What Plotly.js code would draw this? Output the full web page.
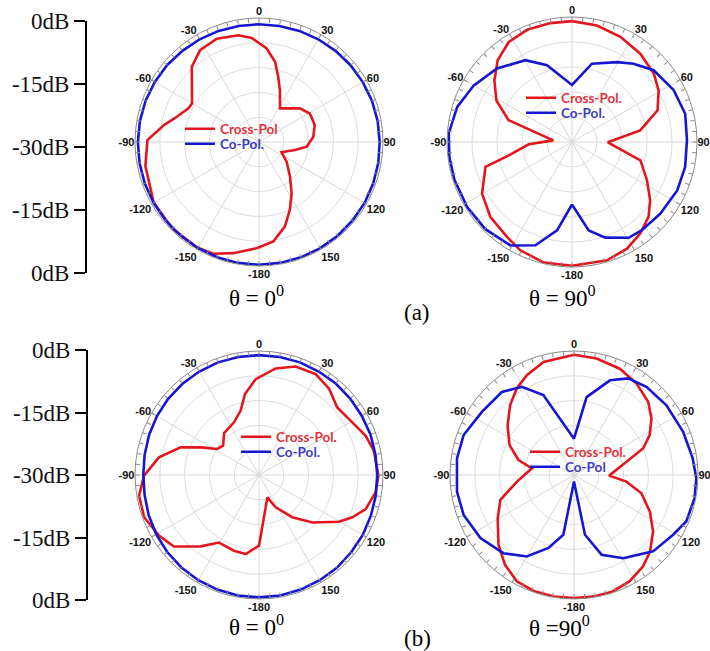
<!DOCTYPE html>
<html>
<head>
<meta charset="utf-8">
<script src="https://cdn.plot.ly/plotly-3.0.1.min.js"></script>
<style>html,body{margin:0;padding:0;background:#fff;}#chart{width:710px;height:651px;}</style>
</head>
<body>
<div id="chart"></div>
<script>
// ---------- DATA (dB, -30 at centre, 0 at outer circle; angle clockwise from top) ----------
const angTickVals = [0, 30, 60, 90, 120, 150, 180, 210, 240, 270, 300, 330];
const angTickText = ['0', '30', '60', '90', '120', '150', '-180', '-150', '-120', '-90', '-60', '-30'];
const bracketPos  = [30, 15, 0, -15, -30];
const bracketText = ['0dB', '-15dB', '-30dB', '-15dB', '0dB'];

// (a) theta = 0 deg
const a0CrossTheta = [-178.7, -167, -157.8, -149.6, -135, -120, -102, -89, -80, -74, -64.5, -60, -41.8, -32.7, -22.2, -10.9, -4, 4.7, 11.3, 16.5, 22, 32, 50.6, 60.7, 73, 84.4, 95.6, 102.5, 114.5, 125.4, 138, 147.5, 155.5, 163, 171.8, -178.7];
const a0CrossR     = [-4.3, -2.4, -0.8, -0.4, -0.4, -0.6, -1.9, -3.0, -6.6, -8.9, -11.1, -11.3, -5.6, -3.6, -3.0, -3.7, -4.75, -7.3, -10.2, -13.6, -16.5, -20.4, -17.2, -15.9, -15.9, -16.8, -18.4, -21.1, -24.0, -21.8, -18.8, -15.3, -12.0, -8.6, -5.7, -4.3];
const a0CoTheta = [-180, -170, -160, -150, -140, -130, -120, -110, -100, -90, -80, -70, -60, -50, -40, -30, -20, -10, 0, 10, 20, 30, 40, 50, 60, 70, 80, 90, 100, 110, 120, 130, 140, 150, 160, 170, 180];
const a0CoR     = [-0.3, -0.3, -0.35, -0.4, -0.45, -0.5, -0.55, -0.6, -0.65, -0.7, -0.75, -0.8, -0.9, -1.0, -1.2, -1.3, -1.4, -1.5, -1.5, -1.5, -1.4, -1.3, -1.2, -1.1, -1.0, -0.9, -0.85, -0.8, -0.7, -0.6, -0.5, -0.45, -0.4, -0.35, -0.3, -0.3, -0.3];

// (a) theta = 90 deg
const a90CrossTheta = [-166.9, -154.5, -145.6, -132.6, -119.9, -106, -101.9, -93, -85, -71, -61.2, -51.5, -42.3, -32.3, -21.8, -10.3, 0, 12.1, 24.7, 37.7, 50.1, 59.2, 69.7, 80.3, 90.5, 105, 117, 126.7, 134.4, 143.3, 152.7, 163.5, 180, -166.9];
const a90CrossR     = [-0.3, -1.2, -2.4, -3.4, -5.1, -8.4, -14.5, -19.6, -25.5, -13.9, -9.3, -6.2, -3.5, -1.6, -1.0, -1.0, -1.0, -1.4, -2.2, -3.2, -4.4, -5.8, -8.1, -13.4, -21.4, -13.0, -9.8, -6.6, -4.3, -2.6, -1.2, -0.4, -0.3, -0.3];
const a90CoTheta = [-180, -170.4, -160.5, -149.2, -135, -121.8, -108, -97, -86, -73, -60, -45.6, -29.7, -18, 0, 14.3, 29.4, 38.2, 48.7, 63, 76, 89, 102.4, 114.7, 129, 141.6, 149.4, 160.8, 169.3, 180];
const a90CoR     = [-15.0, -8.5, -3.7, -1.1, -0.5, -0.4, -0.35, -0.35, -0.35, -1.2, -2.8, -4.8, -7.4, -10.6, -16.3, -10.6, -8.0, -6.1, -3.9, -2.6, -2.0, -2.4, -2.2, -2.2, -2.7, -3.0, -3.3, -5.7, -8.4, -15.0];

// (b) theta = 0 deg
const b0CrossTheta = [-170.4, -161.7, -149.3, -140.7, -130, -121.2, -110.2, -99.8, -90.3, -80, -70.5, -64.6, -58, -50.8, -39.8, -25.4, -15.9, -9.8, -2, 8.9, 18.6, 29.3, 39.1, 49.2, 60.6, 69.8, 78, 90.3, 98.5, 107.7, 114.4, 120.3, 131.6, 141.8, 152.7, 159.5, 180, -170.4];
const b0CrossR     = [-10.6, -10.7, -11.0, -7.7, -3.1, -1.7, -0.4, -0.55, -2.2, -5.4, -9.9, -14.4, -18.1, -18.8, -16.8, -15.9, -13.8, -10.1, -6.8, -3.9, -2.3, -2.0, -3.1, -5.0, -4.1, -2.5, -1.6, -1.1, -1.5, -2.9, -5.2, -7.6, -12.7, -17.0, -21.2, -24.2, -12.9, -10.6];
const b0CoTheta = [-180, -170, -160, -150, -140, -130, -120, -110, -100, -90, -80, -70, -60, -50, -40, -30, -20, -10, 0, 10, 20, 30, 40, 50, 60, 70, 80, 90, 100, 110, 120, 130, 140, 150, 160, 170, 180];
const b0CoR     = [-0.4, -0.4, -0.5, -0.6, -0.8, -1.0, -1.3, -1.6, -1.9, -2.0, -1.9, -1.7, -1.5, -1.3, -1.2, -1.1, -1.0, -1.0, -1.0, -1.0, -1.0, -1.1, -1.1, -1.2, -1.3, -1.3, -1.4, -1.4, -1.3, -1.2, -1.0, -0.9, -0.7, -0.6, -0.5, -0.4, -0.4];

// (b) theta = 90 deg
const b90CrossTheta = [-170.5, -160.8, -151.7, -142.5, -132.8, -119.5, -108.7, -96.6, -81, -74.9, -65.1, -53.1, -42.4, -33.5, -25.3, -15.1, 0, 11, 23.3, 34.4, 45.4, 53.9, 62.2, 69, 75.8, 91, 97.2, 105.2, 115.8, 125.5, 135.2, 142.9, 152.3, 161.6, 171, 180, -170.5];
const b90CrossR     = [-0.2, -0.3, -0.8, -2.6, -5.1, -8.8, -11.2, -16.1, -19.7, -16.1, -12.8, -9.9, -7.1, -4.9, -3.3, -1.7, -0.9, -1.3, -2.0, -3.2, -4.8, -6.8, -9.3, -12.1, -16.9, -21.5, -17.2, -13.1, -9.6, -6.5, -3.9, -2.3, -1.0, -0.3, -0.2, -0.2, -0.2];
const b90CoTheta = [-180, -169.9, -160.7, -149.9, -137.9, -124, -109.9, -98.1, -81.9, -70.1, -55.6, -41, -30.6, -21, 0, 9.2, 20.8, 29.3, 39.4, 53, 68.4, 82, 91.6, 100.9, 112.5, 121.1, 134, 149.4, 160.9, 169.6, 180];
const b90CoR     = [-28.4, -15.3, -11.3, -7.2, -4.5, -2.7, -1.6, -1.4, -1.4, -1.6, -3.0, -3.4, -5.2, -9.3, -21.2, -10.9, -5.5, -3.2, -2.4, -2.0, -1.6, -1.0, -0.4, -0.3, -0.6, -2.0, -3.4, -6.6, -9.6, -15.3, -28.4];

// ---------- STYLE ----------
const RED = '#e3161e', BLUE = '#1616d2';
const RED_TXT = '#e0323c', BLUE_TXT = '#3b3bc4';
const W = 710, H = 651;
const px = v => v / W, py = v => 1 - v / H;

function line(theta, r, color, subplot, name, legend) {
  return { type: 'scatterpolar', mode: 'lines', theta: theta, r: r, subplot: subplot,
           name: name, legend: legend, line: { color: color, width: 2.6 }, hoverinfo: 'skip' };
}
const traces = [
  line(a0CrossTheta, a0CrossR, RED, 'polar', 'Cross-Pol', 'legend'),
  line(a0CoTheta, a0CoR, BLUE, 'polar', 'Co-Pol.', 'legend2'),
  line(a90CrossTheta, a90CrossR, RED, 'polar2', 'Cross-Pol.', 'legend3'),
  line(a90CoTheta, a90CoR, BLUE, 'polar2', 'Co-Pol.', 'legend4'),
  line(b0CrossTheta, b0CrossR, RED, 'polar3', 'Cross-Pol.', 'legend5'),
  line(b0CoTheta, b0CoR, BLUE, 'polar3', 'Co-Pol.', 'legend6'),
  line(b90CrossTheta, b90CrossR, RED, 'polar4', 'Cross-Pol.', 'legend7'),
  line(b90CoTheta, b90CoR, BLUE, 'polar4', 'Co-Pol', 'legend8'),
];
// empty traces so the overlay tick rings and the bracket axes exist
['polar5', 'polar6', 'polar7', 'polar8'].forEach(s => traces.push({ type: 'scatterpolar', r: [], theta: [], subplot: s, showlegend: false, hoverinfo: 'skip' }));
traces.push({ type: 'scatter', x: [], y: [], xaxis: 'x', yaxis: 'y', showlegend: false, hoverinfo: 'skip' });
traces.push({ type: 'scatter', x: [], y: [], xaxis: 'x2', yaxis: 'y2', showlegend: false, hoverinfo: 'skip' });

function mainPolar(cx, cy, R) {
  return {
    domain: { x: [px(cx - R), px(cx + R)], y: [py(cy + R), py(cy - R)] },
    bgcolor: '#ffffff',
    radialaxis: { range: [-30, 0], tickvals: [-24, -18, -12, -6], showticklabels: false, ticks: '',
                  showline: false, gridcolor: '#dcdcdc', gridwidth: 1 },
    angularaxis: { rotation: 90, direction: 'clockwise', tickmode: 'array', tickvals: angTickVals,
                   ticktext: angTickText.map(t => '<b>' + t + '</b>'),
                   ticks: '', showline: false, gridcolor: '#d6d6d6', gridwidth: 1,
                   tickfont: { family: 'Liberation Sans, Arial, sans-serif', size: 11, color: '#111' } }
  };
}
function ringPolar(cx, cy, R) {
  return {
    domain: { x: [px(cx - R), px(cx + R)], y: [py(cy + R), py(cy - R)] },
    bgcolor: 'rgba(0,0,0,0)',
    radialaxis: { visible: false, range: [-30, 0] },
    angularaxis: { rotation: 90, direction: 'clockwise', tickmode: 'linear', tick0: 0, dtick: 5,
                   ticks: 'inside', ticklen: 4, tickwidth: 1, tickcolor: '#8a8a8a', showticklabels: false,
                   showgrid: false, showline: true, linecolor: '#8a8a8a', linewidth: 1 }
  };
}
const P = [[259, 142, 124], [572, 142, 125], [259, 475, 124], [574, 475, 124]];

function leg(x, y, color) {
  return { x: px(x - 5), y: py(y), xanchor: 'left', yanchor: 'middle', bgcolor: 'rgba(0,0,0,0)', borderwidth: 0,
           itemwidth: 30, font: { family: 'Lato, Noto Sans, sans-serif', size: 13.5, color: color, weight: 'bold' } };
}
function bracketAxis(domain) {
  return { domain: domain, range: [-30, 30], tickmode: 'array', tickvals: bracketPos, ticktext: bracketText,
           showline: true, linecolor: '#000', linewidth: 2, ticks: 'outside', ticklen: 11, tickwidth: 2, tickcolor: '#000',
           showgrid: false, zeroline: false, fixedrange: true,
           tickfont: { family: 'Liberation Serif, Times New Roman, serif', size: 23, color: '#111' } };
}
const serif = { family: 'Liberation Serif, Times New Roman, serif', size: 23, color: '#000' };
function ann(text, x, y, xanchor) {
  return { text: text, x: px(x), y: py(y), xref: 'paper', yref: 'paper', xanchor: xanchor, yanchor: 'middle', showarrow: false, font: serif };
}

const layout = {
  width: W, height: H, margin: { l: 0, r: 0, t: 0, b: 0 }, paper_bgcolor: '#ffffff', plot_bgcolor: 'rgba(0,0,0,0)',
  showlegend: true,
  polar: mainPolar(...P[0]), polar2: mainPolar(...P[1]), polar3: mainPolar(...P[2]), polar4: mainPolar(...P[3]),
  polar5: ringPolar(...P[0]), polar6: ringPolar(...P[1]), polar7: ringPolar(...P[2]), polar8: ringPolar(...P[3]),
  legend: leg(185, 129, RED_TXT), legend2: leg(185, 144, BLUE_TXT),
  legend3: leg(526, 98, RED_TXT), legend4: leg(526, 113, BLUE_TXT),
  legend5: leg(241, 437, RED_TXT), legend6: leg(241, 452, BLUE_TXT),
  legend7: leg(530, 452, RED_TXT), legend8: leg(530, 467, BLUE_TXT),
  xaxis: { domain: [px(87), px(100)], visible: false, fixedrange: true },
  yaxis: Object.assign(bracketAxis([py(273), py(21)]), { anchor: 'x' }),
  xaxis2: { domain: [px(88), px(100)], visible: false, fixedrange: true, anchor: 'y2' },
  yaxis2: Object.assign(bracketAxis([py(600), py(350)]), { anchor: 'x2' }),
  annotations: [
    ann('θ = 0<sup>0</sup>', 227, 296, 'left'),
    ann('θ = 90<sup>0</sup>', 527, 296, 'left'),
    ann('(a)', 417, 313, 'center'),
    ann('θ = 0<sup>0</sup>', 227, 625, 'left'),
    ann('θ =90<sup>0</sup>', 527, 626, 'left'),
    ann('(b)', 417, 638, 'center'),
  ]
};

Plotly.newPlot('chart', traces, layout, { staticPlot: true, displayModeBar: false });
</script>
</body>
</html>
